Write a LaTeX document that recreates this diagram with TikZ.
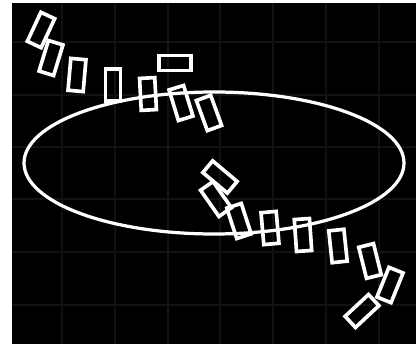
\documentclass[tikz,border=0pt]{standalone}
\usepackage{tikz}
\usetikzlibrary{positioning}
\definecolor{cfondo}{HTML}{000000}
\definecolor{crejilla}{HTML}{121212}
\definecolor{cblanco}{HTML}{FFFFFF}
\tikzset{
  bloque/.style={rectangle, draw=cblanco, line width=2.6pt,
    minimum width=0.38cm, minimum height=0.8cm, inner sep=0pt},
  rejilla/.style={draw=crejilla, line width=1.5pt},
  orbita/.style={draw=cblanco, line width=2.3pt},
}

\begin{document}
\begin{tikzpicture}[x=0.025cm, y=-0.025cm]
  \useasboundingbox (0,0) rectangle (417,347);
  \fill[cfondo] (12,3) rectangle (416,344);
  \foreach \gx in {62,115,168,220,273,326,379}
    \draw[rejilla] (\gx,3) -- (\gx,344);
  \foreach \gy in {42,95,147,199,252,305}
    \draw[rejilla] (12,\gy) -- (416,\gy);

  \draw[orbita] (214,163) ellipse [x radius=190, y radius=71];

  % upper arc of blocks
  \node[bloque, rotate=-25] (r1) at (41,30) {};
  \node[bloque, rotate=-17] (r2) at (51,58) {};
  \node[bloque, rotate=-5] (r3) at (77,75) {};
  \node[bloque] (r4) at (113,85) {};
  \node[bloque, rotate=3] (r5) at (148,94) {};
  \node[bloque, rotate=90] (r6) at (175,63) {};
  \node[bloque, rotate=17] (r7) at (181,103) {};
  \node[bloque, rotate=20] (r8) at (209,113) {};

  % lower arc of blocks
  \node[bloque, rotate=50] (r9) at (220,177) {};
  \node[bloque, rotate=35] (r10) at (216,199) {};
  \node[bloque, rotate=18] (r11) at (239,221) {};
  \node[bloque, rotate=5] (r12) at (270,228) {};
  \node[bloque, rotate=4] (r13) at (303,235) {};
  \node[bloque, rotate=6] (r14) at (338,246) {};
  \node[bloque, rotate=14] (r15) at (370,261) {};
  \node[bloque, rotate=-22] (r16) at (390,285) {};
  \node[bloque, rotate=-47] (r17) at (362,311) {};
\end{tikzpicture}
\end{document}
